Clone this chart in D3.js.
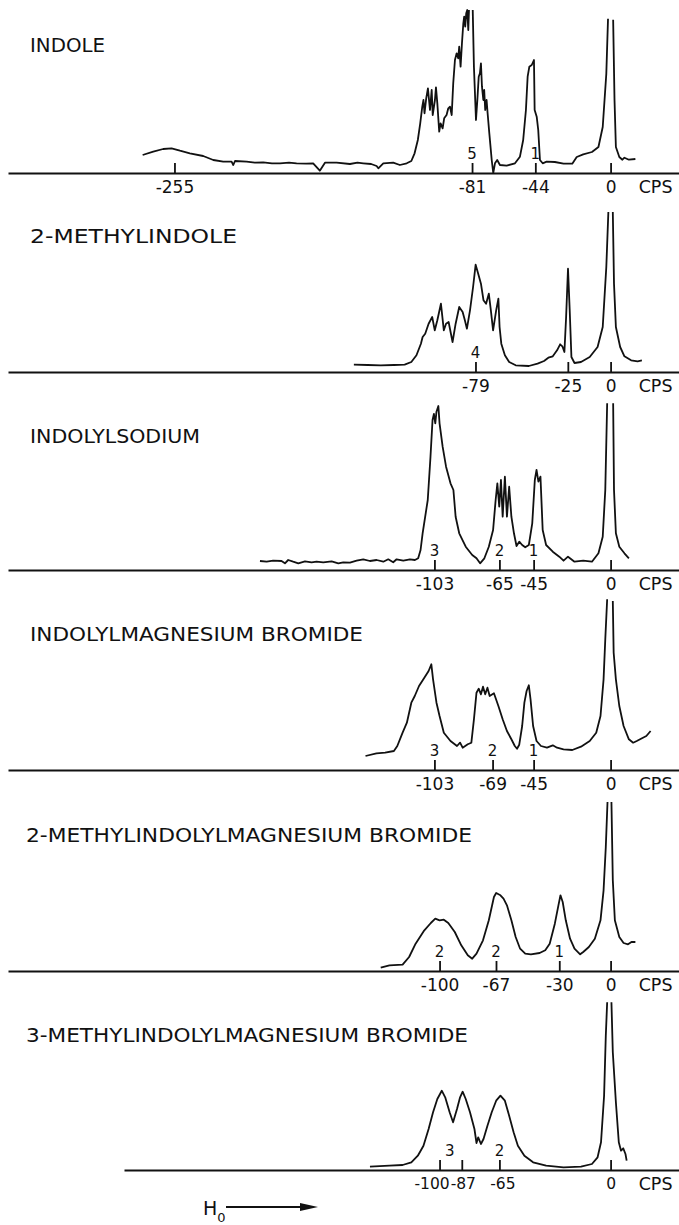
<!DOCTYPE html>
<html>
<head>
<meta charset="utf-8">
<script src="https://cdn.jsdelivr.net/npm/d3@7"></script>
<style>
body { margin: 0; background: #fff; }
text { font-family: "DejaVu Sans", sans-serif; fill: #111; }
</style>
</head>
<body>
<svg id="chart" width="679" height="1225"></svg>
<script>
// each spectrum is [shift in cps, pen height], null = pen ran off the top of the chart
var indole = [[-273.6,18],[-267.4,21.3],[-261.6,24],[-256.7,24.7],[-251.8,22.3],[-246,19.7],[-238.2,17],[-232.3,13],[-226.5,11.3],[-221.6,11.3],
  [-220.6,8],[-219.6,12],[-212.8,11.3],[-208,10.3],[-203.1,10.7],[-198,9.7],[-193.3,9.7],[-188,10.3],[-183.6,9.7],[-178,9.3],[-173.9,9.7],
  [-170,2.3],[-167,10.3],[-160.2,10.3],[-152.4,9],[-148,10.3],[-144.6,9.7],[-140,9],[-136.8,7],[-135.8,4.7],[-132.9,9.7],[-127.1,10.3],
  [-123.2,8],[-119.2,9.7],[-116.5,12],[-114.6,19.7],[-112.7,33],[-111.3,49.7],[-110.1,66.3],[-109.4,73],[-108.8,59.7],[-107.8,74.7],[-106.8,84.7],
  [-105.6,63],[-104.6,83],[-104,58],[-102.7,73],[-102.1,85.7],[-101.3,69.7],[-100.2,41.3],[-99.4,49.7],[-98.2,44.7],[-97.3,54.7],[-95.9,58],
  [-94.9,64.7],[-93.9,66.3],[-92.9,58],[-92,89.7],[-91,113],[-90,119.7],[-89.1,114.7],[-88.5,126.3],[-87.7,106.3],[-86.9,129.7],[-86.1,149.7],
  [-85.6,156.3],[-85,146.3],[-84.4,159.7],[-83.8,163],[-83.2,143],[-82.8,163],[-81.7,null],[-80.6,163],[-79.9,106.3],[-78.7,53],[-77.9,73],
  [-77.1,96.3],[-76.4,99.7],[-75.8,109.7],[-75.2,86.3],[-74.4,73],[-73.9,83],[-73.3,63],[-72.5,73],[-71.9,59.7],[-70.9,39.7],[-69.5,13],
  [-68.6,0],[-67.6,9.7],[-66.3,13],[-64.7,8],[-60.8,7.3],[-55.9,9.7],[-53,16.3],[-51.1,33],[-49.5,63],[-48.5,96.3],[-47.5,106.3],[-46.1,108],
  [-44.8,113],[-44.4,63],[-43.2,56.3],[-42.3,43],[-41.3,13],[-39.7,9.7],[-37.4,11.3],[-32.6,11],[-27.5,9.3],[-22.4,9.3],[-19.8,16],[-16,18.7],
  [-10.9,21],[-7.1,26],[-4.6,46],[-2.5,99.3],[-1.5,154.3],[0,null],[1.5,153.3],[2.3,72.7],[3.1,26],[5.1,16],[6.9,13.3],[8.1,15.3],[10.7,13.3],
  [14.5,14]];

var methylindole = [[-150.1,7.3],[-142,7],[-134.4,6.7],[-126.7,7],[-120.4,7.3],[-116.5,10],[-113.5,16.7],[-110.9,28.3],[-109.9,35],[-108.4,38.3],
  [-106.4,48.3],[-104.3,55],[-102.8,41.7],[-101.3,51.7],[-99.2,68.3],[-97.5,41.7],[-96.2,48.3],[-94.7,50],[-92.4,30],[-90.6,48.3],[-88.5,65],
  [-86.5,60],[-85.2,51.7],[-84,43.3],[-82.2,61.7],[-80.4,85],[-78.9,107.3],[-77.4,98.3],[-75.8,88.3],[-74.3,71.7],[-72.8,68.3],[-71.2,78.3],
  [-70,61.7],[-68.7,41.7],[-66.9,61.7],[-65.6,73.3],[-64.9,45],[-63.9,28.3],[-61.8,16.7],[-59.3,10],[-55.5,6.7],[-47.8,6],[-42.7,8.3],[-38.9,11],
  [-36.4,14.3],[-33.8,15.7],[-31.3,21.7],[-29.5,27.7],[-28.2,25.7],[-27,20],[-26,55],[-24.9,103.3],[-23.9,61.7],[-22.9,15],[-21.1,9],[-17.3,10],
  [-12.2,15],[-7.6,25],[-4.6,45],[-2.5,105],[-1.3,160],[0,null],[1.3,160],[2,88.3],[3.1,45],[5.6,25],[8.1,15.7],[12,11.7],[15.8,10.7],[18.3,11.7]];

var sodium = [[-205,9],[-201.1,8.3],[-197.3,9.3],[-192.4,9],[-190.4,6.7],[-188.5,10],[-185.6,8.3],[-182.6,6.7],[-178.7,8.7],[-174.8,7.7],
  [-171.9,8.3],[-168,7.7],[-163.1,8.7],[-159.2,6.7],[-156.3,7.7],[-152.4,7.3],[-148.5,9.3],[-144.6,10.7],[-140.7,9],[-136.8,10],[-132.9,8.3],
  [-130,10.7],[-127.1,7.7],[-125.1,10.7],[-121.2,9.3],[-117.3,10.7],[-114.4,10],[-112.5,11.7],[-111.1,20],[-109.9,36.7],[-106.9,70],[-105.3,113.3],
  [-104.1,150],[-103.3,156],[-102.5,146.7],[-101.8,158.3],[-100.7,164],[-100,146.7],[-98.2,123.3],[-96.2,103.3],[-93.6,86.7],[-91.9,80],
  [-90.6,53.3],[-88.5,36.7],[-84.7,23.3],[-80.9,15],[-78.4,11.7],[-76.3,6.7],[-73.8,11.7],[-71.2,23.3],[-68.7,40],[-67.2,70],[-66.2,86.7],
  [-65.1,63.3],[-64.1,90],[-63.1,53.3],[-61.8,93.3],[-60.6,53.3],[-59.3,83.3],[-58,53.3],[-56.5,36.7],[-55,24],[-53.4,28.3],[-51.7,25],[-49.9,22.7],
  [-47.8,25],[-45.8,46.7],[-44.3,90],[-43.3,100],[-42.2,88.3],[-41,93.3],[-39.7,40],[-37.7,25],[-33.8,18.3],[-30,13.3],[-27.5,9.3],[-24.9,13.3],
  [-21.1,8.3],[-16,9.3],[-10.9,8.3],[-7.1,16.7],[-4.6,33.3],[-3.1,80],[-2,166.7],[0,null],[1.5,166.7],[2,80],[3.1,36.7],[5.1,23.3],[8.1,16.7],
  [10.7,11.7]];

var magBromide = [[-143.3,14],[-136.9,16.7],[-131.8,17.3],[-126.7,19],[-124.7,24],[-121.6,37.3],[-119.1,47.3],[-116.5,67.3],[-114.5,74],[-112,84],
  [-108.9,92.3],[-106.4,99],[-104.8,105.7],[-103.8,90.7],[-101.8,67.3],[-100,54],[-97.5,37.3],[-93.6,29],[-89.8,24],[-88,27.3],[-86.5,22.3],
  [-83.5,25.7],[-81.4,27.3],[-79.9,50.7],[-78.4,77.3],[-77.1,81.3],[-75.8,75.7],[-74.6,83.3],[-73.3,75.7],[-72,82.3],[-70.7,74],[-68.2,76.7],
  [-65.6,64],[-63.1,50.7],[-60.6,39],[-58,30.7],[-56,24],[-54.7,21.3],[-53.4,25.3],[-51.7,44],[-50.4,67.3],[-49.1,79],[-47.8,84.7],[-46.8,70.7],
  [-45.3,44],[-43.3,29],[-40.7,24],[-37.2,22.3],[-33.8,24.7],[-31.3,22.3],[-27.5,20.7],[-22.4,20],[-17.3,23.3],[-12.2,29],[-8.4,37.3],[-5.9,54],
  [-4.1,90.7],[-3.1,130.7],[-2,170.7],[0,null],[1.3,169],[1.8,117.3],[3.1,90.7],[5.1,64],[7.6,44],[10.7,30.7],[13.2,27.3],[15.3,29],[17.8,31.3],
  [20.9,34],[23.4,39]];

var methyl2Bromide = [[-134.4,3.3],[-129.3,5.7],[-121.6,6.3],[-117.8,14],[-114,27.3],[-108.9,40.7],[-105.1,48],[-102.5,52.3],[-100,50.7],[-97.5,51.3],
  [-94.9,48],[-91.1,39],[-87.3,25.7],[-83.5,15.7],[-80.9,12.3],[-78.4,17.3],[-74.6,30.7],[-71.2,50.7],[-68.2,74],[-66.9,78],[-64.4,75.7],
  [-62.6,72.3],[-60.6,65.7],[-58,50.7],[-55.5,34],[-52.9,22.3],[-49.9,17.3],[-46.6,16.7],[-41.5,18],[-38.2,20.7],[-35.6,27.3],[-32.6,47.3],
  [-30.5,65.7],[-29.3,75.7],[-28,69],[-26.2,50.7],[-23.7,32.3],[-21.1,22.3],[-17.8,16.7],[-16,19],[-12.7,24],[-9.2,32.3],[-5.9,50.7],[-4.1,80.7],
  [-2.8,124],[-1.8,169],[-0.6,null],[0.5,169],[1.3,90.7],[2.5,50.7],[5.1,34],[7.6,28],[10.2,26.7],[12.2,29],[14.5,29]];

var methyl3Bromide = [[-140.7,3.3],[-129.3,4.3],[-121.6,5],[-116.5,7.7],[-112.7,14.3],[-109.4,24.3],[-106.4,41],[-103.8,57.7],[-101.3,71],[-98.7,79.3],
  [-96.7,72.7],[-94.1,57.7],[-92.1,47.7],[-89.8,61],[-88,72.7],[-86.5,78.3],[-84.7,71],[-82.2,57.7],[-79.6,41],[-78.4,27],[-77.4,32.7],[-75.8,26],
  [-74.3,31],[-72,44.3],[-69.5,57.7],[-66.9,69.3],[-64.4,74.3],[-61.8,69.3],[-59.3,54.3],[-56.7,37.7],[-54.2,24.3],[-50.4,14.3],[-45.3,7.7],
  [-37.7,4.3],[-27.5,2.7],[-17.3,3.3],[-10.9,6],[-7.6,12.7],[-5.6,27.7],[-3.8,74.3],[-2.8,134.3],[-2,167.7],[-0.8,null],[0.5,167.7],[1.3,117.7],
  [3.1,67.7],[4.8,27.7],[6.1,19.3],[7.4,21.7],[8.7,16],[9.4,9.3]];

var titles = ["INDOLE", "2-METHYLINDOLE", "INDOLYLSODIUM", "INDOLYLMAGNESIUM BROMIDE",
  "2-METHYLINDOLYLMAGNESIUM BROMIDE", "3-METHYLINDOLYLMAGNESIUM BROMIDE"];
var spectra = [indole, methylindole, sodium, magBromide, methyl2Bromide, methyl3Bromide];
var tickValues = [[-255,-81,-44,0], [-79,-25,0], [-103,-65,-45,0], [-103,-69,-45,0], [-100,-67,-30,0], [-100,-87,-65,0]];
// integrated proton counts written over the peaks
var protons = [[[-81,"5"],[-44,"1"]], [[-79,"4"]], [[-103,"3"],[-65,"2"],[-45,"1"]], [[-103,"3"],[-69,"2"],[-45,"1"]],
  [[-100,"2"],[-67,"2"],[-30,"1"]], [[-94,"3"],[-65,"2"]]];

// layout
var W = 679, H = 1225;
var baseY = [173, 372, 570, 770, 971, 1170];
var titleY = [52, 243, 443, 641, 842, 1042];
var titleW = [75, 207, 170, 333, 446, 442];
var axisStart = [8, 8, 8, 8, 8, 124];

var svg = d3.select("#chart");
svg.append("rect").attr("width", W).attr("height", H).attr("fill", "#fff");

var x = d3.scaleLinear().domain([-357, 40]).range([0, W]);

spectra.forEach(function(spec, i) {
  var g = svg.append("g");
  var y = d3.scaleLinear().domain([0, 170]).range([baseY[i], baseY[i] - 170]);

  g.append("text").attr("x", i == 4 || i == 5 ? 26 : 30).attr("y", titleY[i])
    .attr("font-size", 19).attr("textLength", titleW[i]).attr("lengthAdjust", "spacingAndGlyphs")
    .text(titles[i]);

  var xa = x.copy().domain([x.invert(axisStart[i]), x.invert(W)]).range([axisStart[i], W]);
  var axis = d3.axisBottom(xa).tickValues(tickValues[i]).tickSizeInner(-10).tickSizeOuter(0)
    .tickPadding(8).tickFormat(function(d) { return String(d); });
  var ag = g.append("g").attr("transform", "translate(0," + baseY[i] + ")").call(axis);
  ag.select(".domain").attr("stroke", "#111").attr("stroke-width", 2);
  ag.selectAll(".tick line").attr("stroke", "#111").attr("stroke-width", 1.8);
  ag.selectAll(".tick text").attr("font-size", 17).attr("font-family", "DejaVu Sans").attr("fill", "#111");
  if (i == 5) {
    // the three crowded labels sit edge to edge in the original
    ag.selectAll(".tick text").attr("font-size", 15.5)
      .attr("dx", function(d) { return d == -100 ? -8 : d == -87 ? 1 : d == -65 ? 3 : 0; });
  }

  g.append("text").attr("x", x(0) + 45).attr("y", baseY[i] + 20).attr("font-size", 17.5)
    .attr("text-anchor", "middle").text("CPS");

  g.selectAll(".pn").data(protons[i]).enter().append("text")
    .attr("x", function(d) { return x(d[0]); }).attr("y", baseY[i] - 14)
    .attr("font-size", 15).attr("text-anchor", "middle").text(function(d) { return d[1]; });

  var line = d3.line().defined(function(d) { return d[1] != null; })
    .x(function(d) { return x(d[0]); }).y(function(d) { return y(d[1]); });
  g.append("path").datum(spec).attr("d", line).attr("fill", "none")
    .attr("stroke", "#111").attr("stroke-width", 1.8).attr("stroke-linejoin", "round");
});

// field direction arrow
var arr = svg.append("g");
var h0 = arr.append("text").attr("x", 203).attr("y", 1215).attr("font-size", 19);
h0.append("tspan").text("H");
h0.append("tspan").attr("dy", 7).attr("font-size", 13).text("0");
arr.append("line").attr("x1", 226).attr("x2", 305).attr("y1", 1207).attr("y2", 1207)
  .attr("stroke", "#111").attr("stroke-width", 2);
arr.append("path").attr("d", "M300,1203 L318,1207 L300,1211 Z").attr("fill", "#111");
</script>
</body>
</html>
